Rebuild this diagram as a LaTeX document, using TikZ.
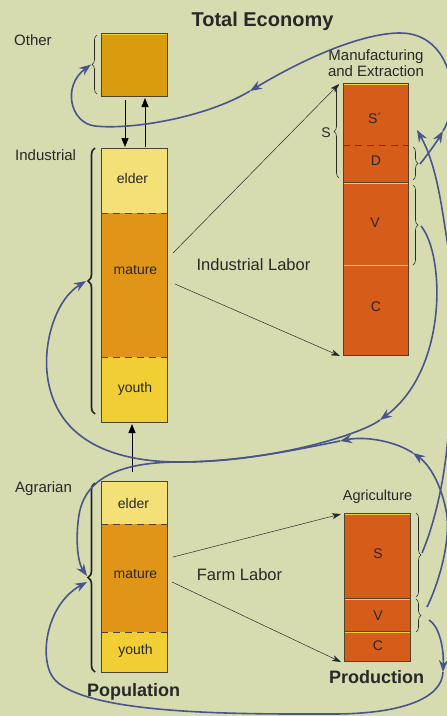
\documentclass[tikz,border=0pt]{standalone}
\usepackage{fontspec}
\setmainfont{Liberation Sans}
\usetikzlibrary{arrows.meta,decorations.pathreplacing,calc}
\definecolor{bgc}{RGB}{214,220,176}
\definecolor{otherc}{RGB}{216,156,14}
\definecolor{elderc}{RGB}{243,224,118}
\definecolor{maturec}{RGB}{224,148,24}
\definecolor{youthc}{RGB}{240,206,52}
\definecolor{prodc}{RGB}{214,92,26}
\definecolor{flowc}{RGB}{72,84,142}
\definecolor{txtc}{RGB}{40,40,40}
\definecolor{edgec}{RGB}{80,66,48}
\definecolor{hilc}{RGB}{236,210,60}
\begin{document}
\begin{tikzpicture}[x=1pt,y=-1pt,
  blk/.style={draw=none,inner sep=0pt,outer sep=0pt,minimum width=66pt},
  edge/.style={draw=edgec,line width=0.6pt},
  sepd/.style={draw=edgec,line width=0.7pt,dash pattern=on 7pt off 5pt},
  seps/.style={draw=edgec,line width=0.6pt},
  hil/.style={draw=hilc,line width=0.7pt},
  lbl/.style={text=txtc,inner sep=0pt,anchor=base,font=\fontsize{14}{16}\selectfont},
  side/.style={text=txtc,inner sep=0pt,anchor=base west,font=\fontsize{15}{17}\selectfont},
  ttl/.style={text=txtc,inner sep=0pt,anchor=base,font=\bfseries\fontsize{18}{20}\selectfont},
  flow/.style={draw=flowc,line width=1.6pt},
  flowarr/.style={flow,-{Stealth[length=12pt,width=9pt,inset=4pt]}},
  labor/.style={draw=txtc,line width=0.5pt,-{Stealth[length=9pt,width=6pt,inset=2.5pt]}},
  vert/.style={draw=black,line width=0.9pt,-{Triangle[length=9pt,width=7pt]}},
  bthin/.style={draw=txtc,line width=0.6pt,decorate,decoration={brace,amplitude=5pt}},
  bthick/.style={draw=black!85,line width=1.7pt,decorate,decoration={brace,amplitude=7pt}}]
\useasboundingbox (0,0) rectangle (447,716);
\fill[bgc] (0,0) rectangle (447,716);
\begin{scope}
\clip (0,0) rectangle (447,716);
% population blocks
\node[blk,fill=otherc,minimum height=63pt] (other) at (134,64.5) {};
\node[blk,fill=elderc,minimum height=65pt] (ielder) at (134,180.5) {};
\node[blk,fill=maturec,minimum height=144pt] (imature) at (134,285) {};
\node[blk,fill=youthc,minimum height=65pt] (iyouth) at (134,389.5) {};
\node[blk,fill=elderc,minimum height=43pt] (aelder) at (134,502.5) {};
\node[blk,fill=maturec,minimum height=108pt] (amature) at (134,578) {};
\node[blk,fill=youthc,minimum height=40pt] (ayouth) at (134,652) {};
% production blocks
\node[blk,fill=prodc,minimum width=65pt,minimum height=62pt] (mS) at (375.5,114) {};
\node[blk,fill=prodc,minimum width=65pt,minimum height=37pt] (mD) at (375.5,163.5) {};
\node[blk,fill=prodc,minimum width=65pt,minimum height=83pt] (mV) at (375.5,223.5) {};
\node[blk,fill=prodc,minimum width=65pt,minimum height=90pt] (mC) at (375.5,310) {};
\node[blk,fill=prodc,minimum height=85pt] (gS) at (377,555.5) {};
\node[blk,fill=prodc,minimum height=33pt] (gV) at (377,614.5) {};
\node[blk,fill=prodc,minimum height=30pt] (gC) at (377,646) {};
% highlights
\draw[hil] ($(other.north west)+(0.5,1.2)$) -- ($(other.north east)+(-0.5,1.2)$);
\draw[hil] ($(mS.north west)+(0.5,1.4)$) -- ($(mS.north east)+(-0.5,1.4)$);
\draw[hil] ($(mV.north west)+(0.5,1.2)$) -- ($(mV.north east)+(-0.5,1.2)$);
\draw[hil] ($(mC.north west)+(0.5,0)$) -- ($(mC.north east)+(-0.5,0)$);
\draw[hil] ($(gS.north west)+(0.5,1.2)$) -- ($(gS.north east)+(-0.5,1.2)$);
\draw[hil] ($(gV.north west)+(0.5,1.2)$) -- ($(gV.north east)+(-0.5,1.2)$);
\draw[hil] ($(gC.north west)+(0.5,1.2)$) -- ($(gC.north east)+(-0.5,1.2)$);
% borders and separators
\draw[edge] (other.north west) rectangle (other.south east);
\draw[edge] (ielder.north west) rectangle (iyouth.south east);
\draw[sepd] (imature.north west) -- (imature.north east);
\draw[sepd] (imature.south west) -- (imature.south east);
\draw[edge] (aelder.north west) rectangle (ayouth.south east);
\draw[sepd] (amature.north west) -- (amature.north east);
\draw[sepd] (amature.south west) -- (amature.south east);
\draw[edge] (mS.north west) rectangle (mC.south east);
\draw[sepd] (mD.north west) -- (mD.north east);
\draw[seps] (mV.north west) -- (mV.north east);
\draw[edge] (gS.north west) rectangle (gC.south east);
\draw[seps] (gV.north west) -- (gV.north east);
\draw[seps] (gC.north west) -- (gC.north east);
% block labels
\node[lbl] (tie) at (132.5,183) {elder};
\node[lbl] (tim) at (135.5,274) {mature};
\node[lbl] (tiy) at (135,392) {youth};
\node[lbl] (tae) at (133.5,508) {elder};
\node[lbl] (tam) at (135.5,578) {mature};
\node[lbl] (tay) at (135.5,654) {youth};
\node[lbl] (tms) at (375,123) {S´};
\node[lbl] (tmd) at (376,165) {D};
\node[lbl] (tmv) at (375,227) {V};
\node[lbl] (tmc) at (376,311) {C};
\node[lbl] (tgs) at (378,558) {S};
\node[lbl] (tgv) at (378,620) {V};
\node[lbl] (tgc) at (378,650) {C};
% titles and side labels
\node[ttl,font=\bfseries\fontsize{20}{22}\selectfont] (title) at (262.5,26) {Total Economy};
\node[ttl] (pop) at (133.5,696) {Population};
\node[ttl] (prod) at (376.5,683) {Production};
\node[side] (lother) at (14,45) {Other};
\node[side] (lind) at (15,160.5) {Industrial};
\node[side] (lagr) at (15,492) {Agrarian};
\node[lbl,font=\fontsize{15}{17}\selectfont] (lman1) at (376,60.5) {Manufacturing};
\node[lbl,font=\fontsize{15}{17}\selectfont] (lman2) at (376,76) {and Extraction};
\node[lbl,font=\fontsize{14.5}{17}\selectfont] (lagri) at (377.5,500.5) {Agriculture};
\node[lbl] (ls) at (326,137) {S};
\node[lbl,font=\fontsize{16.5}{19}\selectfont] (lil) at (253.5,270.7) {Industrial Labor};
\node[lbl,font=\fontsize{16.5}{19}\selectfont] (lfl) at (239.5,580) {Farm Labor};
% braces
\draw[bthin] (97,94) -- (97,35);
\draw[bthick] (95,414) -- (95,148);
\draw[bthick] (95,672) -- (95,483);
\draw[bthin] (339,178) -- (339,85);
\draw[bthin] (413,147) -- (413,180);
\draw[bthin] (413,185) -- (413,265);
\draw[bthin] (416,513) -- (416,597);
\draw[bthin] (416,599) -- (416,632);
\coordinate (otip) at (91,64.5);
\coordinate (itip) at (86,281);
\coordinate (atip) at (87,577);
\coordinate (dtip) at (418,163.5);
\coordinate (vtip) at (418,225);
\coordinate (gstip) at (421,555);
\coordinate (gvtip) at (421,615.5);
% labor arrows
\draw[labor] ($(imature.east)+(6,-32)$) -- ($(mS.north west)+(-4,1)$);
\draw[labor] ($(imature.east)+(8,-1)$) -- ($(mC.south west)+(-3,1)$);
\draw[labor] ($(amature.east)+(6,-21)$) -- ($(gS.north west)+(-3,1)$);
\draw[labor] ($(amature.east)+(5,4)$) -- ($(gC.south west)+(-3,1)$);
% vertical arrows
\draw[vert] ($(other.south)+(-9,4)$) -- ($(ielder.north)+(-9,-1)$);
\draw[vert] ($(ielder.north)+(11,-1)$) -- ($(other.south)+(11,2)$);
\draw[vert] ($(aelder.north)+(-2,-9)$) -- ($(iyouth.south)+(-2,2)$);
% flow C1: D -> Other
\draw[flowarr] ($(dtip)+(2,0.5)$) .. controls (428,154) and (436,143) .. (443,131);
\draw[flowarr] (443,131) .. controls (462,100) and (452,33) .. (400,33) .. controls (365,33) and (310,55) .. (250,91);
\draw[flowarr] (250,91) .. controls (205,118) and (130,130) .. (95,126) .. controls (70,123) and (62,86) .. (otip);
% flow C2: agricultural S -> S'
\draw[flow] ($(gstip)+(1,-2)$) .. controls (436,520) and (447,470) .. (449,420) .. controls (451,370) and (455,290) .. (447,240);
\draw[flowarr] (447,240) .. controls (442,210) and (437,165) .. (417,130);
% flow C3: V -> Industrial
\draw[flowarr] ($(vtip)+(3,1)$) .. controls (445,255) and (448,370) .. (380,420);
\draw[flow] (380,420) .. controls (360,435) and (270,462) .. (180,462) .. controls (130,462) and (60,450) .. (48,380);
\draw[flowarr] (48,380) .. controls (42,345) and (55,300) .. (itip);
% flow C4: agricultural V -> Agrarian (above)
\draw[flowarr] ($(gvtip)+(6,-8.5)$) .. controls (438,585) and (452,540) .. (446,510) .. controls (441,485) and (430,465) .. (413,453);
\draw[flowarr] (413,453) .. controls (395,441) and (365,436) .. (340,441);
\draw[flow] (340,441) .. controls (300,449) and (240,462) .. (180,462) .. controls (120,462) and (85,478) .. (79,515);
\draw[flowarr] (79,515) .. controls (75,540) and (78,563) .. ($(atip)+(0,-1)$);
% flow C5: agricultural V -> Agrarian (below)
\draw[flowarr] ($(gvtip)+(8,4.5)$) .. controls (438,625) and (444,645) .. (443,672);
\draw[flow] (443,672) .. controls (442,699) and (400,714) .. (333,714) .. controls (250,714) and (90,716) .. (55,680);
\draw[flowarr] (55,680) .. controls (38,662) and (45,605) .. ($(atip)+(0,5)$);
\end{scope}
\end{tikzpicture}
\end{document}
